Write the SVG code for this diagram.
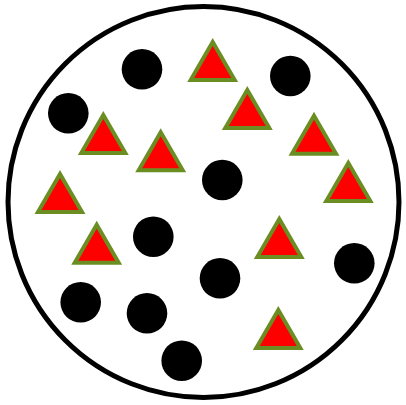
<svg xmlns="http://www.w3.org/2000/svg" xmlns:xlink="http://www.w3.org/1999/xlink" width="406" height="405" viewBox="0 0 406 405">
<style>
.dot{fill:#000}
.tri{fill:#ff0000;stroke:#6b8e23;stroke-width:4;stroke-linejoin:miter}
</style>
<defs>
<polygon id="t" points="0,0 -22,38 22,38"/>
</defs>
<rect width="406" height="405" fill="#fff"/>
<g id="boundary"><circle cx="203.5" cy="202" r="195.5" fill="#fff" stroke="#000" stroke-width="5"/></g>
<g id="connectors"/>
<g id="d1"><circle class="dot" cx="142" cy="69.3" r="20.3"/></g>
<g id="d2"><circle class="dot" cx="290.3" cy="76" r="20.3"/></g>
<g id="d3"><circle class="dot" cx="68.3" cy="113.3" r="20.3"/></g>
<g id="d4"><circle class="dot" cx="222.3" cy="180" r="20.3"/></g>
<g id="d5"><circle class="dot" cx="153.3" cy="236.7" r="20.3"/></g>
<g id="d6"><circle class="dot" cx="220" cy="278.3" r="20.3"/></g>
<g id="d7"><circle class="dot" cx="354.3" cy="263.3" r="20.3"/></g>
<g id="d8"><circle class="dot" cx="80.7" cy="302.3" r="20.3"/></g>
<g id="d9"><circle class="dot" cx="147" cy="313.3" r="20.3"/></g>
<g id="d10"><circle class="dot" cx="181.7" cy="360.7" r="20.3"/></g>
<g id="t1"><use class="tri" xlink:href="#t" href="#t" x="212.7" y="42"/></g>
<g id="t2"><use class="tri" xlink:href="#t" href="#t" x="247.3" y="90"/></g>
<g id="t3"><use class="tri" xlink:href="#t" href="#t" x="103.3" y="115"/></g>
<g id="t4"><use class="tri" xlink:href="#t" href="#t" x="160.7" y="132.3"/></g>
<g id="t5"><use class="tri" xlink:href="#t" href="#t" x="314" y="115.7"/></g>
<g id="t6"><use class="tri" xlink:href="#t" href="#t" x="348.3" y="163"/></g>
<g id="t7"><use class="tri" xlink:href="#t" href="#t" x="60" y="174"/></g>
<g id="t8"><use class="tri" xlink:href="#t" href="#t" x="96.7" y="224.7"/></g>
<g id="t9"><use class="tri" xlink:href="#t" href="#t" x="279.3" y="219"/></g>
<g id="t10"><use class="tri" xlink:href="#t" href="#t" x="278.3" y="310"/></g>
</svg>
